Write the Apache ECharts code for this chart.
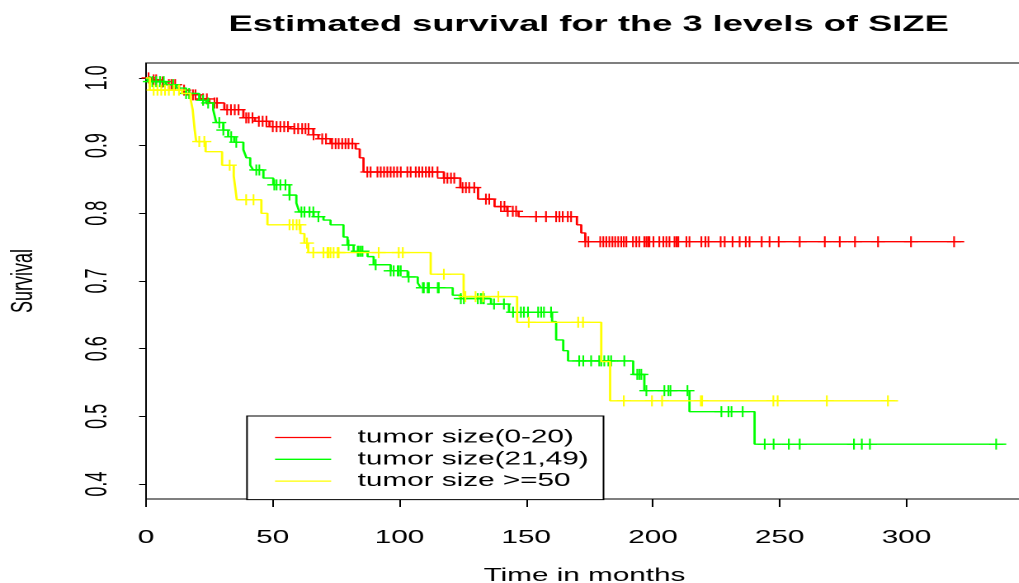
<!DOCTYPE html>
<html>
<head>
<meta charset="utf-8">
<title>Estimated survival for the 3 levels of SIZE</title>
<script src="https://cdn.jsdelivr.net/npm/echarts@6/dist/echarts.min.js"></script>
<style>
  html, body { margin: 0; padding: 0; background: #fff; overflow: hidden; }
  #wrap { width: 1019px; height: 583px; overflow: hidden; position: relative; background: #fff; }
  /* the plot is laid out narrow and widened horizontally, like the original device output */
  #chart { width: 620px; height: 583px; transform: scaleX(1.65); transform-origin: 0 0; }
</style>
</head>
<body>
<div id="wrap"><div id="chart"></div></div>
<script>
// ---- axis ticks ----
const timeTicks = [0, 50, 100, 150, 200, 250, 300];
const survivalTicks = [0.4, 0.5, 0.6, 0.7, 0.8, 0.9, 1.0];

// ---- group labels and colours ----
const groupNames = ['tumor size(0-20)', 'tumor size(21,49)', 'tumor size >=50'];
const groupColors = ['#ff0000', '#00ff00', '#ffff00'];

// ---- tumor size 0-20: Kaplan-Meier steps (time in months, survival after step) ----
const smallEventTimes = [0, 2, 5.5, 7.9, 13, 17, 21.4, 25, 30.9, 38.4, 43, 48.7, 57, 66, 68, 72.8, 82.7, 84.3, 85.8,
  117.5, 124, 131, 137.5, 142.5, 147, 170, 171.7, 173.3];
const smallEventSurv = [1.0, 0.997, 0.994, 0.990, 0.982, 0.975, 0.969, 0.963, 0.953, 0.941, 0.936, 0.928, 0.925, 0.916, 0.910, 0.903, 0.895, 0.882, 0.861,
  0.852, 0.838, 0.821, 0.810, 0.803, 0.795, 0.783, 0.771, 0.758];
const smallLastTime = 322.8;
const smallCensored = [1, 3, 4, 6.5, 9, 10, 11.5, 15, 18.5, 19.5, 22.5, 24, 27, 28, 32, 33.5, 35, 36.5, 39.5, 40.5, 42, 44.5,
  46, 47.5, 50, 51.5, 53, 54.5, 56, 58.5, 60, 61.6, 62.9, 64.1, 66.1, 69.5, 71, 73.4, 74.8, 76, 77.4, 78.7, 79.9, 81.4,
  87.3, 88.6, 91.3, 92.6, 93.9, 95.2, 96.5, 97.8, 99.1, 100.5, 103.1, 104.4, 106.4, 107.7, 109, 110.4, 111.7, 113, 115,
  117.6, 118.9, 120.3, 121.6, 124.9, 126.2, 127.5, 129.5, 134.1, 135.4, 140, 141.4, 142.7, 144.7, 146, 153.9, 157.8,
  161.8, 163.1, 164.4, 166.4, 167.7, 173.3, 174.5, 179.2, 180.4, 181.6, 182.8, 184, 185.1, 186.3, 187.5, 188.5, 189.5,
  192.1, 193.4, 194.6, 196.6, 197.4, 198.1, 198.6, 200.2, 202.5, 204.1, 205.3, 206.5, 208.5, 209.3, 210, 213.2, 214.4,
  219.1, 220.7, 221.9, 226.7, 228.3, 231.4, 234.2, 236.6, 238.1, 242.9, 246, 249.6, 257.9, 267.8, 273.7, 279.7, 288.8,
  301.8, 318.8];

// ---- tumor size 21-49 ----
const midEventTimes = [0, 1.2, 7.9, 11.9, 15.8, 21, 23.7, 26.5, 27.7, 30.5, 32.4, 34.8, 38.4, 39.6, 41.1, 42.3, 46.3,
  50.2, 56.6, 59.3, 60.5, 66.1, 70, 72.8, 77.9, 79.5, 81.9, 87.4, 89.8, 96.5, 103.2, 107.2, 108.4, 121, 124.2, 136.1,
  143.2, 160.2, 161.8, 164.6, 166.5, 192.2, 196.6, 214.4, 240.1];
const midEventSurv = [1, 0.9945, 0.990, 0.985, 0.977, 0.967, 0.963, 0.953, 0.934, 0.923, 0.913, 0.905, 0.894, 0.882,
  0.871, 0.864, 0.852, 0.842, 0.827, 0.815, 0.802, 0.795, 0.790, 0.783, 0.765, 0.753, 0.744, 0.736, 0.724, 0.715, 0.706,
  0.697, 0.690, 0.679, 0.674, 0.666, 0.654, 0.640, 0.613, 0.597, 0.582, 0.562, 0.538, 0.507, 0.459];
const midLastTime = 339.4;
const midCensored = [1.5, 2.5, 4, 5.5, 7, 10.7, 15.8, 17, 22.5, 24.5, 28.9, 30.5, 33.6, 35.6, 43.5, 44.7, 50.6, 51.5,
  53, 55, 56.6, 61.3, 62.5, 64.5, 66, 68, 79.9, 83.5, 83.9, 84.7, 85.4, 90.6, 96.5, 97.7, 99.3, 99.7, 100.5, 103.6,
  109.2, 109.6, 111.1, 111.6, 115.1, 115.5, 124.2, 125.4, 130.9, 132.1, 132.9, 133.3, 137.3, 141.2, 144.8, 147.9,
  149.1, 150.7, 154.7, 155.9, 157, 159.8, 170.9, 172.5, 175.6, 178.8, 179.6, 180.8, 182.4, 183.5, 188.7, 193.8, 194.6,
  195.4, 197.4, 204.5, 206.1, 206.9, 213.6, 227, 229.8, 231, 235.4, 244.1, 247.6, 253.6, 257.9, 279.3, 282.4, 285.6,
  335.4];

// ---- tumor size >= 50 ----
const largeEventTimes = [0, 1.5, 14.2, 17.6, 18.4, 19.2, 19.8, 23.5, 30, 34.6, 35.8, 45.5, 47.9, 60.9, 62.5, 64,
  112.3, 125.3, 146.4, 179.6, 183.1];
const largeEventSurv = [1, 0.982, 0.977, 0.968, 0.953, 0.923, 0.906, 0.891, 0.871, 0.855, 0.820, 0.800, 0.783, 0.770,
  0.756, 0.742, 0.710, 0.677, 0.639, 0.581, 0.523];
const largeLastTime = 296.7;
const largeCensored = [3, 4.5, 6, 7.5, 9, 11, 13, 21, 23, 33, 39.5, 42.4, 56.6, 58, 59.4, 60.5, 63.5, 66, 70, 71.6, 72,
  72.8, 74, 75.6, 76, 91.8, 99.7, 101.3, 117.5, 126, 130, 133, 139, 151, 170.5, 172.4, 188.5, 199.6, 203.6, 218.9,
  219.4, 247.5, 249.2, 268.6, 292.7];

const groups = [
  { times: smallEventTimes, surv: smallEventSurv, last: smallLastTime, cens: smallCensored },
  { times: midEventTimes, surv: midEventSurv, last: midLastTime, cens: midCensored },
  { times: largeEventTimes, surv: largeEventSurv, last: largeLastTime, cens: largeCensored }
];

// survival level of a step curve at time t
function levelAt(g, t) {
  let s = g.surv[0];
  for (let i = 0; i < g.times.length; i++) {
    if (g.times[i] <= t) s = g.surv[i]; else break;
  }
  return s;
}

const FONT = '"Liberation Sans", Arial, sans-serif';
const plusMark = 'path://M0,5L10,5M5,0L5,10';

const series = [];
groups.forEach(function (g, k) {
  const pts = g.times.map(function (t, i) { return [t, g.surv[i]]; });
  pts.push([g.last, g.surv[g.surv.length - 1]]);
  series.push({
    type: 'line', name: groupNames[k], data: pts, step: 'end',
    symbol: 'none', silent: true, z: 3 + k,
    lineStyle: { color: groupColors[k], width: 1.4 },
    itemStyle: { color: groupColors[k] }
  });
  series.push({
    type: 'scatter', name: groupNames[k] + ' censored', silent: true, z: 3 + k,
    data: g.cens.map(function (t) { return [t, levelAt(g, t)]; }),
    symbol: plusMark, symbolSize: [8.5, 11],
    itemStyle: { color: 'transparent', borderColor: groupColors[k], borderWidth: 1.2, opacity: 1 }
  });
});

const chart = echarts.init(document.getElementById('chart'), null, { renderer: 'canvas', devicePixelRatio: 2 });
chart.setOption({
  animation: false,
  backgroundColor: '#ffffff',
  title: {
    text: 'Estimated survival for the 3 levels of SIZE',
    left: 133.5, top: 9,
    textStyle: { fontFamily: FONT, fontSize: 22, fontWeight: 'bold', color: '#000' }
  },
  grid: {
    left: 88.5, right: 0, top: 63, bottom: 84,
    containLabel: false, outerBoundsMode: 'none',
    show: true, borderColor: '#000', borderWidth: 1, backgroundColor: 'transparent'
  },
  legend: {
    data: groupNames.map(function (n) { return { name: n, icon: 'rect' }; }),
    orient: 'vertical', left: 149.7, top: 416,
    padding: [12.5, 9, 9.5, 17], itemWidth: 34, itemHeight: 1.3, itemGap: 3.8,
    backgroundColor: '#fff', borderColor: '#000', borderWidth: 1, borderRadius: 0,
    selectedMode: false,
    textStyle: { fontFamily: FONT, fontSize: 18, lineHeight: 18, color: '#000', padding: [0, 0, 0, 11] }
  },
  xAxis: {
    type: 'value', min: 0, max: 346,
    axisLine: { show: false },
    splitLine: { show: false },
    axisTick: { show: true, length: 8, customValues: timeTicks, lineStyle: { color: '#000', width: 1 } },
    axisLabel: { customValues: timeTicks, fontFamily: FONT, fontSize: 18, color: '#000', margin: 30 },
    name: 'Time in months', nameLocation: 'middle', nameGap: 68,
    nameTextStyle: { fontFamily: FONT, fontSize: 18, color: '#000' }
  },
  yAxis: {
    type: 'value', min: 0.378, max: 1.022,
    axisLine: { show: false },
    splitLine: { show: false },
    axisTick: { show: true, length: 4.2, customValues: survivalTicks, lineStyle: { color: '#000', width: 1 } },
    axisLabel: {
      customValues: survivalTicks, rotate: 90, fontFamily: FONT, fontSize: 18, color: '#000', margin: 20,
      formatter: function (v) { return v.toFixed(1); }
    },
    name: 'Survival', nameLocation: 'middle', nameRotate: 90, nameGap: 65,
    nameTextStyle: { fontFamily: FONT, fontSize: 18, color: '#000' }
  },
  series: series
});
</script>
</body>
</html>
